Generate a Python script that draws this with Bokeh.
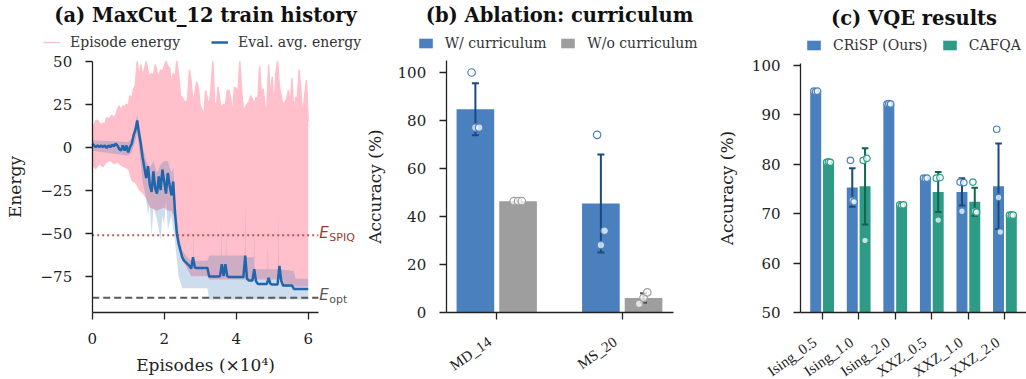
import numpy as np
from bokeh.plotting import figure
from bokeh.layouts import row
from bokeh.models import (ColumnDataSource, Label, LabelSet, Legend,
                          LegendItem, FixedTicker)
from bokeh.embed import file_html
from bokeh.resources import INLINE

# ======================= DATA =======================
# (a) MaxCut_12 train history, episodes in units of 1e4
EPISODE_X = np.round(np.arange(121) * 0.05, 2)  # sampling positions 0..6
EPISODE_HI = [12.6, 12.6, 15.5, 15.5, 14, 13, 14, 13, 17.4, 16,
              17.4, 18.5, 17, 18.5, 22, 24, 21, 24, 23, 25,
              24, 30, 28, 34, 36, 50, 40, 48, 42, 45,
              50, 44, 41, 43, 41, 48, 44, 41, 45, 44,
              47, 50, 47, 46, 36, 43, 40, 50, 42, 30,
              29, 27, 26, 28, 45, 38, 26, 31, 38, 34,
              24, 22, 17.5, 33, 28, 24, 34, 50, 26, 24,
              35, 26, 23, 25, 24, 33, 33, 28, 19, 35,
              34, 32, 50, 33, 21, 23, 25, 26, 30, 28,
              25, 29, 27, 47, 31, 34, 24, 21, 48, 27,
              41, 21, 43, 50, 35, 30, 24, 26, 28, 33,
              25, 40, 19, 29, 29, 45, 31, 18, 30, 39,
              15]
EVAL_AVG = [2, 1, 0, 1, 0, 1, 0, 1, -0.5, 1,
            0, 1.5, 0.5, 2, 1, -1, -2, 1, -2, 1,
            -3, 0, 2, 7, 10, 15.5, 8, 2, -6, -12,
            -18, -11, -22, -26, -14, -24, -27, -17, -25, -13,
            -20, -27, -15, -22, -28, -20, -38, -50, -56, -60,
            -64, -66, -67, -68, -69, -70.5, -64, -70, -70.2, -70.2,
            -70.2, -70.2, -70.2, -70.2, -70.2, -75.2, -75.2, -75.2, -75.2, -75.2,
            -75.2, -75, -68, -75, -68, -75, -75.5, -75.5, -75.5, -75.5,
            -75.5, -75.5, -75.5, -75.5, -75.5, -63, -76.5, -77.5, -77.5, -77.5,
            -71, -78, -79.5, -79.5, -79.5, -79.5, -79.5, -79.5, -76, -79.5,
            -79.8, -79.8, -79.8, -79.8, -69, -77.5, -80.4, -80.4, -80.4, -80.4,
            -80.4, -80.4, -82.4, -82.4, -82.4, -82.4, -82.4, -82.4, -82.4, -82.4,
            -82.4]
EPISODE_LO_X = [0, 0.1, 0.2, 0.3, 0.4, 0.5, 0.6, 0.7, 0.8, 0.9,
                1.0, 1.05, 1.1, 1.2, 1.3, 1.4, 1.5, 1.6, 1.7, 1.8,
                1.9, 2.0, 2.1, 2.2, 2.3, 2.35, 2.4, 2.45, 2.5, 2.6,
                2.7, 2.75, 3.2, 3.25, 5.3, 5.35, 6.0]
EPISODE_LO = [-11, -13, -10, -12, -9, -8, -10, -9, -11, -12,
              -13, -17, -20, -21, -25, -27, -30, -35, -36, -37,
              -36, -35, -37, -37, -42, -50, -57, -61, -65, -69,
              -73, -75, -75, -77, -77, -81, -81]
EVAL_HI_X = [0, 1.0, 1.1, 1.2, 1.25, 1.3, 1.35, 1.4, 1.5, 1.6,
             1.7, 1.8, 1.9, 2.0, 2.1, 2.2, 2.25, 2.3, 2.4, 2.5,
             2.6, 2.75, 2.81, 2.82, 2.83, 2.85, 3.2, 3.25, 3.58, 3.59,
             3.6, 3.65, 3.71, 3.72, 3.73, 3.75, 4.24, 4.25, 4.26, 4.3,
             4.49, 4.5, 4.51, 4.55, 4.87, 4.88, 4.89, 4.95, 5.17, 5.18,
             5.19, 5.25, 5.6, 5.65, 6.0]
EVAL_HI = [4, 3, 5, 13, 19, 12, 8, 0, -8, -12,
           -8, -15, -10, -8, -8, -15, -12, -30, -50, -60,
           -63, -66, -66, -48, -66, -66, -66, -63, -63, -45,
           -63, -63, -63, -46, -63, -63, -63, -30, -64, -64,
           -64, -47, -70, -71, -71, -56, -71, -71, -71, -37,
           -71, -71, -72, -76.5, -76.5]
EVAL_LO_X = [0, 1.0, 1.1, 1.2, 1.25, 1.3, 1.35, 1.4, 1.5, 1.55,
             1.6, 1.65, 1.7, 1.8, 1.9, 1.95, 2.0, 2.05, 2.1, 2.2,
             2.3, 2.4, 2.5, 3.2, 3.25, 6.0]
EVAL_LO = [-2, -5, -3, 4, 9, 0, -10, -20, -30, -40,
           -32, -52, -35, -42, -54, -40, -45, -30, -48, -40,
           -55, -75, -82, -82, -88.5, -88.5]
E_SPIQ = -51.2
E_OPT = -87.6

# (b) Ablation: curriculum
ABL_CATS = ["MD_14", "MS_20"]
W_CURR_PTS = [[100.0, 77.0, 77.0], [74.0, 28.0, 34.0]]
WO_CURR_PTS = [[46.3, 46.3, 46.3], [3.5, 6.0, 8.3]]

# (c) VQE results
VQE_CATS = ["Ising_0.5", "Ising_1.0", "Ising_2.0", "XXZ_0.5", "XXZ_1.0", "XXZ_2.0"]
CRISP_PTS = [[94.8, 94.7, 94.8], [80.8, 72.7, 72.4], [92.2, 92.3, 92.2],
             [77.2, 77.1, 77.2], [76.4, 70.5, 76.3], [87.1, 73.3, 66.3]]
CAFQA_PTS = [[80.4, 80.5, 80.4], [80.8, 64.6, 81.2], [71.8, 71.7, 71.8],
             [77.2, 68.7, 77.3], [76.4, 70.5, 70.3], [69.7, 69.7, 69.7]]

assert len(EPISODE_HI) == 121 and len(EVAL_AVG) == 121
assert len(EPISODE_LO_X) == len(EPISODE_LO)
assert len(EVAL_HI_X) == len(EVAL_HI)
assert len(EVAL_LO_X) == len(EVAL_LO)

# axis limits of the three panels
A_X = (0, 6.28)
A_Y = (-96.3, 50)
B_X = (-0.4026, 1.411)
B_Y = (0, 105)
C_X = (-0.591, 5.59)
C_Y = (50, 100.5)

# ======================= STYLE =======================
SERIF = "'DejaVu Serif', serif"
SANS = "'DejaVu Sans', sans-serif"
INK = "#222222"
PINK = "#ffc0cb"
LINE_BLUE = "#2166ac"
SPIQ_RED = "#b0403a"
OPT_GRAY = "#5a5a5a"
BAR_BLUE = "#4a80bd"
BAR_GRAY = "#9e9e9e"
BAR_TEAL = "#2e9b87"
ERR_BLUE = "#1a4a80"
ERR_GRAY = "#4d4d4d"
ERR_TEAL = "#0f6453"
H = 379


def extend(d0, d1, p0, p1, total):
    """range whose value d0 sits at pixel p0 and d1 at pixel p1 of a canvas side of length total"""
    s = (d1 - d0) / (p1 - p0)
    return (d0 - p0 * s, d0 + (total - p0) * s)


def make_fig(width, xlim, ylim, xpix, ypix_top):
    # xpix: pixel columns of the xlim ends, ypix_top: pixel rows (from top) of the ylim ends
    xr = extend(xlim[0], xlim[1], xpix[0], xpix[1], width)
    yr = extend(ylim[0], ylim[1], H - ypix_top[0], H - ypix_top[1], H)
    p = figure(width=width, height=H, x_range=xr, y_range=yr,
               output_backend="svg", toolbar_location=None,
               min_border_left=0, min_border_right=0, min_border_top=0,
               min_border_bottom=0)
    p.title.visible = False
    p.outline_line_color = None
    p.grid.visible = False
    p.xaxis.fixed_location = ylim[0]
    p.yaxis.fixed_location = xlim[0]
    p.xaxis.bounds = xlim
    p.yaxis.bounds = ylim
    for ax in p.axis:
        ax.axis_line_width = 1.3
        ax.axis_line_color = INK
        ax.major_tick_line_width = 1.3
        ax.major_tick_line_color = INK
        ax.major_tick_out = 7
        ax.major_tick_in = 0
        ax.minor_tick_out = 0
        ax.minor_tick_in = 0
        ax.major_label_text_font = SERIF
        ax.major_label_text_font_size = "15px"
        ax.major_label_text_color = INK
        ax.major_label_standoff = 13
        ax.axis_label_text_font = SERIF
        ax.axis_label_text_font_size = "17px"
        ax.axis_label_text_font_style = "normal"
        ax.axis_label_text_color = INK
    return p


def title(p, x, y, text):
    p.add_layout(Label(x=x, y=H - y, x_units="screen", y_units="screen",
                       text=text, text_align="center", text_baseline="middle",
                       text_font=SERIF, text_font_style="bold",
                       text_font_size="19.5px", text_color="#111111"))


def legend(p, label, renderer, x, ycenter, gw, gh, standoff):
    lg = Legend(items=[LegendItem(label=label, renderers=[renderer])],
                location=(x, H - ycenter - 7), orientation="horizontal",
                border_line_color=None, background_fill_alpha=0,
                padding=0, margin=0, spacing=0, glyph_width=gw,
                glyph_height=gh, label_height=14, label_standoff=standoff,
                label_text_font=SERIF, label_text_font_size="14px",
                label_text_color="#333333")
    p.add_layout(lg)


def cat_labels(p, cats, y):
    src = ColumnDataSource(dict(x=list(range(len(cats))), y=[y] * len(cats), t=cats))
    p.add_layout(LabelSet(x="x", y="y", text="t", source=src, angle=35,
                          angle_units="deg", text_align="right",
                          text_baseline="middle", x_offset=-7, y_offset=-28,
                          text_font=SERIF, text_font_size="15px",
                          text_color=INK))


def bars(p, pts, offset, color, err_color, jitter, cap, size, bottom):
    arr = np.array(pts)
    mean = arr.mean(axis=1)
    std = arr.std(axis=1)
    xs = np.arange(len(pts)) + offset
    r = p.vbar(x=xs, top=mean, bottom=bottom, width=0.3, fill_color=color,
               line_color=None)
    p.segment(x0=xs, y0=mean - std, x1=xs, y1=mean + std,
              line_color=err_color, line_width=2)
    for yy in (mean - std, mean + std):
        p.segment(x0=xs - cap, y0=yy, x1=xs + cap, y1=yy,
                  line_color=err_color, line_width=2)
    px = (xs[:, None] + np.array(jitter)[None, :]).ravel()
    p.scatter(px, arr.ravel(), size=size, marker="circle", fill_color="white",
              fill_alpha=0.72, line_color=color, line_width=1.2)
    return r


# ======================= (a) =======================
pa = make_fig(363, A_X, A_Y, (91.7, 317.8), (312.3, 60.7))
pa.xaxis.ticker = FixedTicker(ticks=[0, 2, 4, 6])
pa.yaxis.ticker = FixedTicker(ticks=[-75, -50, -25, 0, 25, 50])
pa.yaxis.major_label_overrides = {-75: "\u221275", -50: "\u221250", -25: "\u221225"}
pa.xaxis.axis_label = "Episodes (\u00d710\u2074)"
pa.yaxis.axis_label = "Energy"
pa.xaxis.axis_label_standoff = 8
pa.yaxis.axis_label_standoff = 13

pa.patch(list(EPISODE_X) + EPISODE_LO_X[::-1], EPISODE_HI + EPISODE_LO[::-1],
         fill_color=PINK, line_color=None)
pink_line = pa.line(EPISODE_X, EPISODE_HI, line_color=PINK, line_width=1.5)
pa.patch(EVAL_HI_X + EVAL_LO_X[::-1], EVAL_HI + EVAL_LO[::-1],
         fill_color=LINE_BLUE, fill_alpha=0.22, line_color=None)
blue_line = pa.line(EPISODE_X, EVAL_AVG, line_color=LINE_BLUE, line_width=2.5)
pa.segment(x0=[A_X[0]], y0=[E_SPIQ], x1=[A_X[1]], y1=[E_SPIQ], line_color=SPIQ_RED,
           line_alpha=0.85, line_dash="2 3", line_width=2)
pa.segment(x0=[A_X[0]], y0=[E_OPT], x1=[A_X[1]], y1=[E_OPT], line_color=OPT_GRAY,
           line_dash="7 4", line_width=2)
for yv, sub, col, oy, osub in ((E_SPIQ, "SPIQ", "#a5352e", 2, -2),
                               (E_OPT, "opt", "#555555", 2.5, -2)):
    pa.add_layout(Label(x=A_X[1], y=yv, x_offset=1, y_offset=oy, text="E",
                        text_font=SANS, text_font_style="italic",
                        text_font_size="15px", text_color=col,
                        text_baseline="middle"))
    pa.add_layout(Label(x=A_X[1], y=yv, x_offset=11, y_offset=osub, text=sub,
                        text_font=SANS, text_font_size="11px",
                        text_color=col, text_baseline="middle"))
title(pa, 205, 15, "(a) MaxCut_12 train history")
legend(pa, "Episode energy", pink_line, 43, 43.3, 17, 14, 10)
legend(pa, "Eval. avg. energy", blue_line, 211, 43.3, 17, 14, 10)

# ======================= (b) =======================
pb = make_fig(340, B_X, B_Y, (82.7, 310.3), (311.7, 60))
pb.xaxis.ticker = FixedTicker(ticks=[0, 1])
pb.xaxis.major_label_text_color = None
pb.yaxis.ticker = FixedTicker(ticks=[0, 20, 40, 60, 80, 100])
pb.yaxis.axis_label = "Accuracy (%)"
pb.yaxis.axis_label_standoff = 10
rb1 = bars(pb, W_CURR_PTS, -0.17, BAR_BLUE, ERR_BLUE, [-0.03, 0, 0.03], 0.028, 7.5, 0)
rb2 = bars(pb, WO_CURR_PTS, 0.17, BAR_GRAY, ERR_GRAY, [-0.035, 0, 0.03], 0.028, 7.5, 0)
cat_labels(pb, ABL_CATS, B_Y[0])
title(pb, 196, 14.5, "(b) Ablation: curriculum")
legend(pb, "W/ curriculum", rb1, 53.7, 43.8, 17, 12, 11)
legend(pb, "W/o curriculum", rb2, 196.3, 43.8, 17, 12, 11)

# ======================= (c) =======================
pc = make_fig(323, C_X, (50, 100), (97, 323), (312, 65))
pc.yaxis.bounds = C_Y
pc.xaxis.ticker = FixedTicker(ticks=list(range(6)))
pc.xaxis.major_label_text_color = None
pc.yaxis.ticker = FixedTicker(ticks=[50, 60, 70, 80, 90, 100])
pc.yaxis.axis_label = "Accuracy (%)"
pc.yaxis.axis_label_standoff = 12
rc1 = bars(pc, CRISP_PTS, -0.175, BAR_BLUE, ERR_BLUE, [-0.05, 0, 0.05], 0.09, 6.5, C_Y[0])
rc2 = bars(pc, CAFQA_PTS, 0.175, BAR_TEAL, ERR_TEAL, [-0.05, 0, 0.05], 0.09, 6.5, C_Y[0])
cat_labels(pc, VQE_CATS, C_Y[0])
title(pc, 210.5, 17.7, "(c) VQE results")
legend(pc, "CRiSP (Ours)", rc1, 102, 46.2, 17, 12, 11)
legend(pc, "CAFQA", rc2, 237.7, 46.2, 17, 12, 11)

layout = row(pa, pb, pc)
open("out.html", "w").write(file_html(layout, INLINE))
